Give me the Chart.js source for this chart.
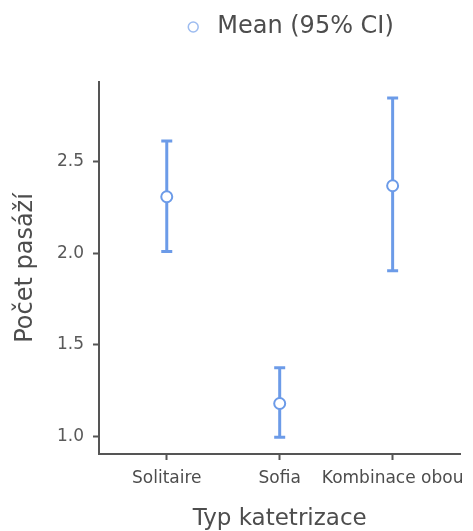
<!DOCTYPE html>
<html>
<head>
<meta charset="utf-8">
<script src="https://cdn.jsdelivr.net/npm/chart.js@4/dist/chart.umd.min.js"></script>
<style>
  html, body { margin: 0; padding: 0; background: #fff; }
  #wrap { width: 473px; height: 531px; }
</style>
</head>
<body>
<div id="wrap"><canvas id="chart"></canvas></div>
<script>
// data
const categories = ['Solitaire', 'Sofia', 'Kombinace obou'];
const means = [2.31, 1.18, 2.37];
const ciLower = [2.01, 0.995, 1.905];
const ciUpper = [2.615, 1.375, 2.85];
const yTicks = [1.0, 1.5, 2.0, 2.5];

const blue = '#6c9be8';
const axisGrey = '#555555';
const font = 'DejaVu Sans';

// mean points
const meanPoints = categories.map((c, i) => ({ x: i, y: means[i] }));

// CI whiskers: lower, upper, then a gap
const ciPoints = [];
categories.forEach((c, i) => {
    ciPoints.push({ x: i, y: ciLower[i] });
    ciPoints.push({ x: i, y: ciUpper[i] });
    ciPoints.push({ x: i, y: null });
});

// legend needs more room below it and sits right of centre
const legendTweak = {
    id: 'legendTweak',
    beforeInit(chart) {
        const lg = chart.legend;
        const fit = lg.fit;
        lg.fit = function () {
            fit.call(this);
            this.height = 82;
        };
        const draw = lg.draw;
        lg.draw = function () {
            this.left += 51; this.right += 51;
            draw.call(this);
            this.left -= 51; this.right -= 51;
        };
    }
};

new Chart(document.getElementById('chart'), {
    type: 'scatter',
    data: {
        datasets: [{
            label: 'Mean (95% CI)',
            data: meanPoints,
            pointStyle: 'circle',
            pointRadius: 5.5,
            pointBackgroundColor: '#ffffff',
            pointBorderColor: blue,
            pointBorderWidth: 2,
            backgroundColor: '#ffffff',
            borderColor: blue
        }, {
            label: 'CI',
            type: 'line',
            data: ciPoints,
            showLine: true,
            spanGaps: false,
            borderColor: blue,
            borderWidth: 3,
            pointStyle: 'line',
            pointRadius: 5.5,
            pointBorderColor: blue,
            pointBorderWidth: 3
        }]
    },
    options: {
        responsive: true,
        maintainAspectRatio: false,
        animation: false,
        layout: { padding: 0 },
        plugins: {
            tooltip: { enabled: false },
            legend: {
                position: 'top',
                labels: {
                    filter: (item) => item.datasetIndex === 0,
                    usePointStyle: true,
                    boxWidth: 24,
                    boxHeight: 7,
                    padding: 15,
                    color: '#4d4d4d',
                    font: { family: font, size: 24 },
                    generateLabels: (chart) => {
                        const items = Chart.defaults.plugins.legend.labels.generateLabels(chart);
                        items.forEach(it => {
                            it.strokeStyle = '#9dbcf0';
                            it.fillStyle = '#ffffff';
                            it.lineWidth = 1.5;
                            it.pointStyle = 'circle';
                        });
                        return items;
                    }
                }
            }
        },
        scales: {
            x: {
                type: 'linear',
                min: -0.6,
                max: 2.6,
                afterBuildTicks: (s) => { s.ticks = categories.map((c, i) => ({ value: i })); },
                afterFit: (s) => { s.height = 77; },
                ticks: {
                    callback: (v) => categories[v],
                    color: '#4d4d4d',
                    padding: 8,
                    maxRotation: 0,
                    autoSkip: false,
                    font: { family: font, size: 17 }
                },
                grid: {
                    drawOnChartArea: false,
                    drawTicks: true,
                    tickLength: 6,
                    tickWidth: 2,
                    tickColor: axisGrey
                },
                border: { color: axisGrey, width: 2 },
                title: {
                    display: true,
                    text: 'Typ katetrizace',
                    color: '#4d4d4d',
                    padding: { top: 0, bottom: 0 },
                    font: { family: font, size: 23, lineHeight: 1 }
                }
            },
            y: {
                type: 'linear',
                min: 0.904,
                max: 2.937,
                afterBuildTicks: (s) => { s.ticks = yTicks.map(v => ({ value: v })); },
                afterFit: (s) => { s.width = 99; },
                ticks: {
                    callback: (v) => v.toFixed(1),
                    color: '#595959',
                    padding: 9,
                    font: { family: font, size: 17 }
                },
                grid: {
                    drawOnChartArea: false,
                    drawTicks: true,
                    tickLength: 6,
                    tickWidth: 2,
                    tickColor: axisGrey
                },
                border: { color: axisGrey, width: 2 },
                title: {
                    display: true,
                    text: 'Počet pasáží',
                    color: '#4d4d4d',
                    padding: { top: 11, bottom: 0 },
                    font: { family: font, size: 24 }
                }
            }
        }
    },
    plugins: [legendTweak]
});
</script>
</body>
</html>
